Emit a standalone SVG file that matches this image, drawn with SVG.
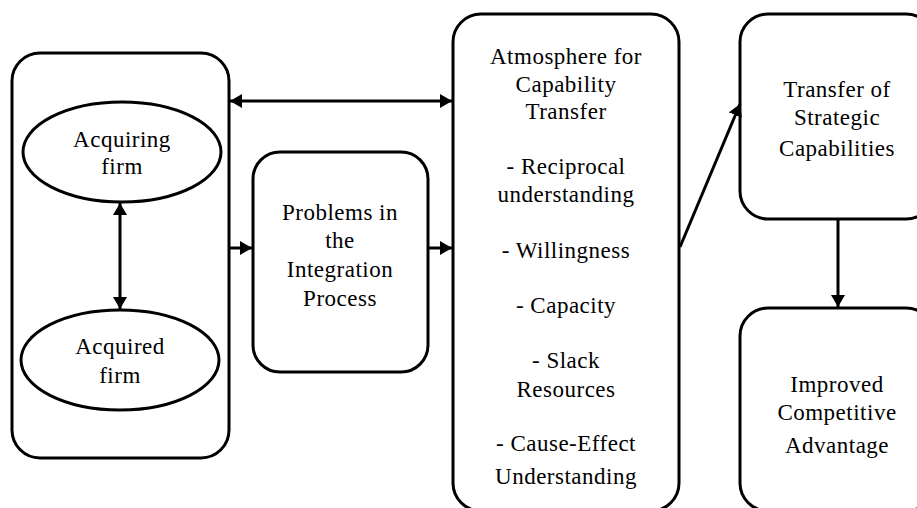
<svg xmlns="http://www.w3.org/2000/svg" width="917" height="508" viewBox="0 0 917 508">
  <style>
    .box { fill: #fff; stroke: #000; stroke-width: 3; }
    .lbl { font-family: 'Liberation Serif', 'Times New Roman', serif; font-size: 23px; letter-spacing: 0.5px; fill: #000; text-anchor: middle; }
    .edge { fill: none; stroke: #000; stroke-width: 3; }
  </style>
  <defs>
    <marker id="head" viewBox="0 0 12 14" refX="12" refY="7" markerWidth="12" markerHeight="14" markerUnits="userSpaceOnUse" orient="auto-start-reverse">
      <path d="M0,0 L12,7 L0,14 Z" fill="#000"/>
    </marker>
  </defs>
  <rect width="917" height="508" fill="#fff"/>

  <!-- Firms container -->
  <g id="firms">
    <rect class="box" x="12" y="53" width="217" height="405" rx="28" ry="28"/>
  </g>
  <g id="acquiring">
    <ellipse class="box" cx="122" cy="152" rx="99" ry="50"/>
    <text class="lbl" x="122" y="147">Acquiring</text>
    <text class="lbl" x="122" y="174">firm</text>
  </g>
  <g id="acquired">
    <ellipse class="box" cx="120" cy="360" rx="99" ry="50"/>
    <text class="lbl" x="120" y="354">Acquired</text>
    <text class="lbl" x="120" y="383">firm</text>
  </g>

  <!-- Integration problems -->
  <g id="problems">
    <rect class="box" x="253" y="152" width="175" height="220" rx="27" ry="27"/>
    <text class="lbl" x="340" y="220">Problems in</text>
    <text class="lbl" x="340" y="248">the</text>
    <text class="lbl" x="340" y="277">Integration</text>
    <text class="lbl" x="340" y="306">Process</text>
  </g>

  <!-- Atmosphere for capability transfer -->
  <g id="atmosphere">
    <rect class="box" x="453" y="14" width="226" height="497" rx="28" ry="28"/>
    <text class="lbl" x="566" y="64">Atmosphere for</text>
    <text class="lbl" x="566" y="92">Capability</text>
    <text class="lbl" x="566" y="119">Transfer</text>
    <text class="lbl" x="566" y="174">- Reciprocal</text>
    <text class="lbl" x="566" y="202">understanding</text>
    <text class="lbl" x="566" y="258">- Willingness</text>
    <text class="lbl" x="566" y="313">- Capacity</text>
    <text class="lbl" x="566" y="368">- Slack</text>
    <text class="lbl" x="566" y="397">Resources</text>
    <text class="lbl" x="566" y="451">- Cause-Effect</text>
    <text class="lbl" x="566" y="484">Understanding</text>
  </g>

  <!-- Transfer of strategic capabilities -->
  <g id="transfer">
    <rect class="box" x="740" y="14" width="194" height="205" rx="28" ry="28"/>
    <text class="lbl" x="837" y="97">Transfer of</text>
    <text class="lbl" x="837" y="125">Strategic</text>
    <text class="lbl" x="837" y="156">Capabilities</text>
  </g>

  <!-- Competitive advantage -->
  <g id="advantage">
    <rect class="box" x="740" y="308" width="194" height="203" rx="28" ry="28"/>
    <text class="lbl" x="837" y="392">Improved</text>
    <text class="lbl" x="837" y="420">Competitive</text>
    <text class="lbl" x="837" y="453">Advantage</text>
  </g>

  <!-- Connectors -->
  <g id="connectors">
    <line class="edge" x1="120" y1="203" x2="120" y2="309" marker-start="url(#head)" marker-end="url(#head)"/>
    <line class="edge" x1="230" y1="101" x2="452" y2="101" marker-start="url(#head)" marker-end="url(#head)"/>
    <line class="edge" x1="230" y1="248" x2="252" y2="248" marker-end="url(#head)"/>
    <line class="edge" x1="429" y1="248" x2="452" y2="248" marker-end="url(#head)"/>
    <line class="edge" x1="680" y1="247" x2="740" y2="104" marker-end="url(#head)"/>
    <line class="edge" x1="838" y1="220" x2="838" y2="307" marker-end="url(#head)"/>
  </g>
</svg>
